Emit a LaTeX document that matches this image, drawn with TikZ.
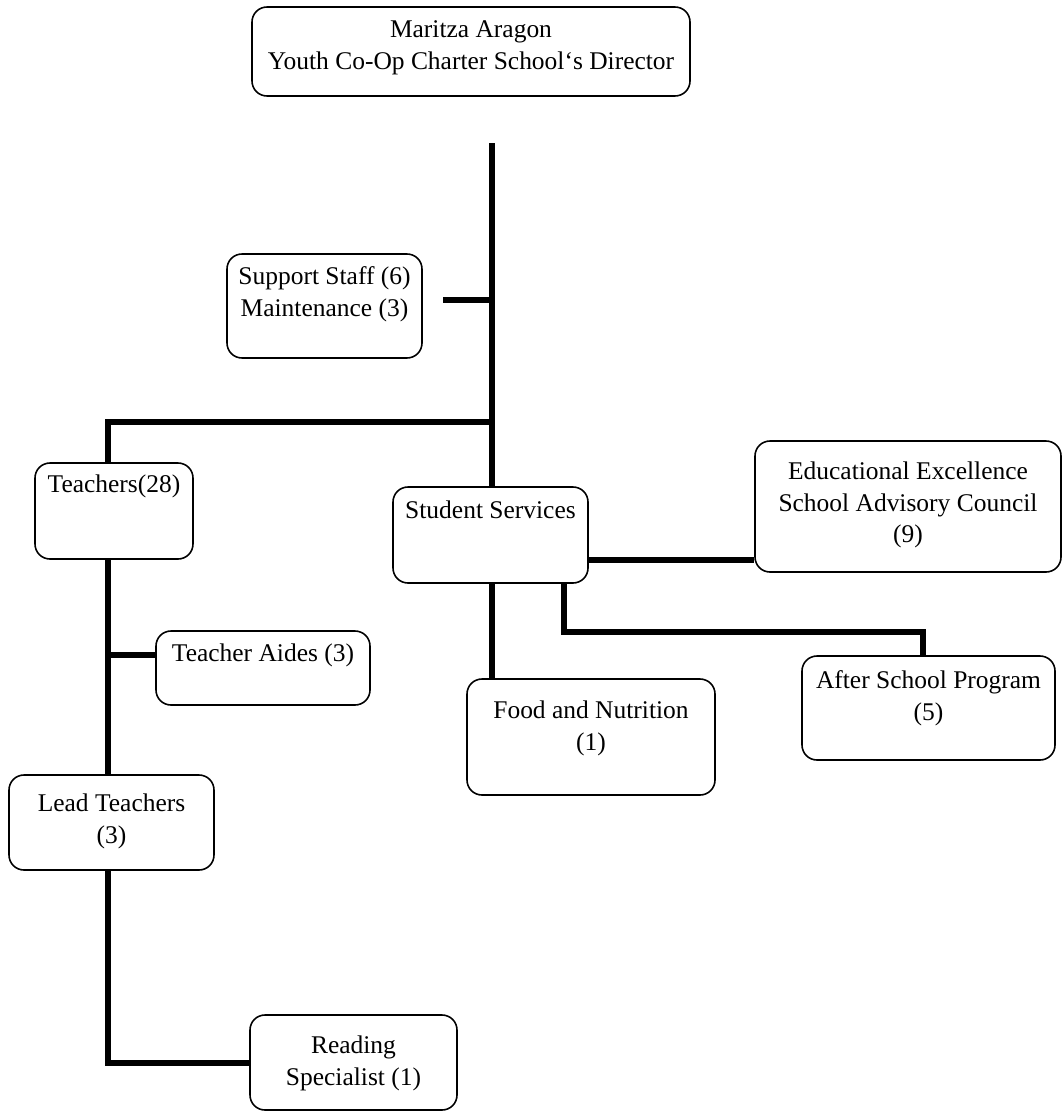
\documentclass[tikz,border=0pt]{standalone}
\usepackage{fontspec}
\setmainfont{Liberation Serif}
\usetikzlibrary{positioning}
\newdimen\pxu \pxu=0.02cm
% box text: width, height, top gap (all in px), text
\newcommand{\boxtext}[4]{\parbox[c][#2\pxu][t]{#1\pxu}{\centering\vspace*{#3\pxu}#4\par}}
\tikzset{
  unit/.style={draw, rounded corners=0.3cm, line width=0.9pt, inner sep=0pt, font=\fontsize{14.5}{18}\selectfont},
  link/.style={line width=3.4pt}
}

\begin{document}
\begin{tikzpicture}[x=0.02cm, y=-0.02cm]
    \useasboundingbox (0,0) rectangle (1063,1112);
    \node[unit] (dir) at (471,51.5) {\boxtext{438}{89}{14}{Maritza Aragon\\Youth Co-Op Charter School‘s Director}};
    \node[unit] (sup) at (324.5,306) {\boxtext{195}{104}{13}{Support Staff (6)\\Maintenance (3)}};
    \node[unit] (tea) at (114,511) {\boxtext{158}{96}{12}{Teachers(28)}};
    \node[unit] (aid) at (263,668) {\boxtext{214}{74}{13}{Teacher Aides (3)}};
    \node[unit] (lead) at (111.5,822.5) {\boxtext{205}{95}{19}{Lead Teachers\\(3)}};
    \node[unit] (read) at (353.5,1062.5) {\boxtext{207}{95}{21}{Reading\\Specialist (1)}};
    \node[unit] (stu) at (490.5,535) {\boxtext{195}{96}{14}{Student Services}};
    \node[unit] (ee) at (908,506.5) {\boxtext{306}{131}{21}{Educational Excellence\\School Advisory Council\\(9)}};
    \node[unit] (food) at (591,737) {\boxtext{248}{116}{22}{Food and Nutrition\\(1)}};
    \node[unit] (asp) at (928.5,708) {\boxtext{253}{104}{15}{After School Program\\(5)}};

    \coordinate (top) at (492,143);
    \coordinate (supend) at (443,300);
    \coordinate (tj) at (492,422);
    \coordinate (tcol) at (108,422);
    \coordinate (aj) at (108,655);
    \coordinate (ej) at (588,560);
    \coordinate (ak) at (564,632);
    \coordinate (ad) at (923,632);

    \draw[link] (top) -- (top |- stu.north);
    \draw[link] (supend) -- (supend -| top);
    \draw[link] (tj) -- (tcol) -- (tcol |- tea.north);
    \draw[link] (tcol |- tea.south) -- (tcol |- lead.north);
    \draw[link] (aj) -- (aj -| aid.west);
    \draw[link] (tcol |- lead.south) |- (read.west);
    \draw[link] (ej) -- (ej -| ee.west);
    \draw[link] (top |- stu.south) -- (top |- food.north);
    \draw[link] (ak |- stu.south) -- (ak) -- (ad) -- (ad |- asp.north);
\end{tikzpicture}
\end{document}
